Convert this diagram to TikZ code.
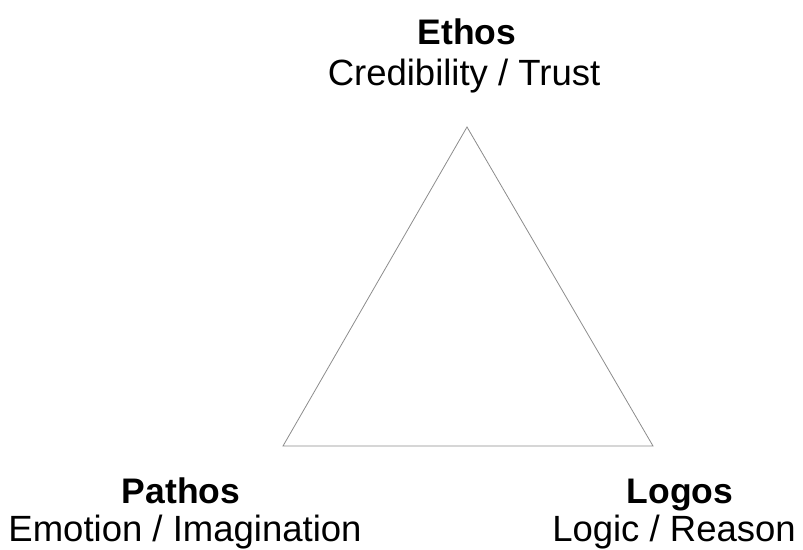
\documentclass[tikz,border=0pt]{standalone}
\usepackage{fontspec}
\setmainfont{Liberation Sans}
\usepackage{tikz}
\usetikzlibrary{positioning}

\begin{document}
\begin{tikzpicture}[x=1pt,y=-1pt,
  title/.style = {anchor=base,inner sep=0pt,font=\fontsize{35.5}{40}\selectfont\bfseries},
  sub/.style = {anchor=base,inner sep=0pt,font=\fontsize{36.5}{42}\selectfont},
  side/.style = {draw=black!45,line width=0.8pt,line join=miter}]
 \useasboundingbox (0,0) rectangle (803,549);
 % corners of the triangle
 \coordinate (top)   at (467,127);
 \coordinate (left)  at (283,446);
 \coordinate (right) at (653,446);
 \draw[side] (top) -- (left) -- (right) -- cycle;
 % labels
 \node[title] (ethos)  at (467,44)  {Ethos};
 \node[sub]   (ethosT) at (464,85)  {Credibility / Trust};
 \node[title] (pathos) at (181,503) {Pathos};
 \node[sub]   (pathosT) at (185,541) {Emotion / Imagination};
 \node[title] (logos)  at (680,503) {Logos};
 \node[sub]   (logosT) at (674,541) {Logic / Reason};
\end{tikzpicture}
\end{document}
